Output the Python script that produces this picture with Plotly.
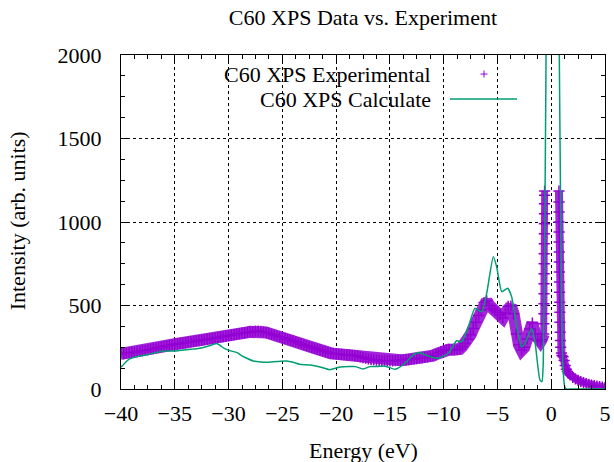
import numpy as np
import plotly.graph_objects as go

# ---- experimental XPS spectrum (C60) ----
# valence band region, sampled every 0.25 eV from -40 to -1.25 eV
exp_energy_vb = np.round(np.arange(-40.0, -1.0, 0.25), 2)
exp_intensity_vb = [
    210, 212, 214, 216,
    218, 220, 222, 225,
    228, 231, 234, 237,
    240, 244, 247, 251,
    254, 258, 261, 265,
    268, 270, 273, 275,
    278, 280, 283, 285,
    288, 290, 293, 295,
    298, 301, 303, 306,
    309, 312, 314, 317,
    320, 323, 326, 329,
    332, 334, 336, 339,
    342, 344, 346, 347,
    345, 342, 338, 333,
    327, 323, 318, 313,
    308, 303, 298, 293,
    288, 283, 276, 270,
    265, 259, 253, 248,
    244, 239, 234, 229,
    224, 219, 214, 212,
    210, 208, 207, 205,
    204, 204, 202, 199,
    197, 192, 188, 184,
    180, 177, 175, 173,
    171, 169, 168, 168,
    168, 169, 170, 171,
    172, 173, 174, 176,
    178, 180, 182, 184,
    186, 189, 192, 196,
    200, 207, 215, 224,
    232, 235, 236, 235,
    234, 235, 240, 255,
    273, 298, 325, 362,
    400, 440, 475, 518,
    528, 500, 482, 470,
    460, 445, 425, 455,
    495, 497, 450, 330,
    265, 233, 250, 300,
    360, 395, 330, 290,
]

# near the Fermi level the spectrum was recorded on a finer grid
exp_energy_homo = [
    -1.0, -0.9,
    -0.70, -0.69, -0.68, -0.675, -0.67, -0.665, -0.66, -0.655,
    -0.65, -0.645, -0.64, -0.635, -0.63, -0.625, -0.62, -0.61,
]
exp_intensity_homo = [
    285, 295,
    330, 390, 450, 510, 570, 630, 690, 750,
    810, 870, 930, 990, 1050, 1110, 1160, 1185,
]
exp_energy_lumo = [
    0.72, 0.725, 0.73, 0.735, 0.74, 0.745, 0.75, 0.755,
    0.76, 0.77, 0.78, 0.79, 0.80, 0.81, 0.83, 0.85, 0.88,
    0.95, 1.0, 1.1, 1.2, 1.3, 1.4, 1.5, 1.6, 1.75,
    2.0, 2.25, 2.5, 2.75, 3.0, 3.25, 3.5, 3.75,
    4.0, 4.25, 4.5, 4.75, 5.0,
]
exp_intensity_lumo = [
    1185, 1120, 1060, 1000, 940, 880, 820, 760,
    700, 640, 580, 520, 460, 400, 340, 290, 250,
    215, 200, 193, 170, 140, 118, 105, 95, 85,
    70, 60, 52, 45, 38, 33, 28, 24,
    20, 17, 14, 11, 8,
]

# ---- calculated spectrum ----
calc_energy = [
    -40, -39.5, -39.2, -38.5, -37.5, -36.5, -36, -35, -34.4, -33.5,
    -32.8, -32, -31.5, -31.1, -30.8, -30.4, -29.9, -29.2, -28.9, -28.5,
    -27.7, -27, -26.45, -25.5, -24.6, -24, -23.4, -22.4, -21.5, -20.6,
    -19.6, -18.7, -18.2, -17.5, -16.85, -16.4, -15.5, -14.5, -13.6, -12.9,
    -12.36, -11.7, -11.1, -10.5, -9.57, -8.8, -8.33, -7.7, -7.1, -6.47,
    -6.0, -5.39, -5.07, -4.6, -4.05, -3.68, -3.21, -2.75, -2.44, -1.82,
    -1.51, -1.05, -0.86, -0.74, -0.62, -0.5, -0.4, -0.2, 0.0, 0.3,
    0.6, 0.75, 0.9, 1.0, 1.1, 1.25, 1.4, 2.0, 3.0, 4.0, 5.0,
]
calc_intensity = [
    130, 165, 180, 195, 207, 222, 228, 227, 232, 238,
    243, 255, 265, 273, 262, 243, 230, 218, 205, 190,
    168, 162, 160, 165, 168, 160, 148, 144, 132, 116,
    132, 134, 134, 120, 134, 134, 138, 118, 154, 200,
    218, 204, 190, 184, 214, 289, 283, 373, 483, 463,
    573, 792, 732, 583, 603, 553, 373, 253, 273, 363,
    283, 54, 44, 156, 800, 1800, 3000, 5000, 6000, 5000,
    3000, 2000, 900, 350, 120, 15, 0, 0, 0, 0, 0,
]

x_ticks = [-40, -35, -30, -25, -20, -15, -10, -5, 0, 5]
y_ticks = [0, 500, 1000, 1500, 2000]

PURPLE = "#9400D3"
GREEN = "#009E73"
FONT = "Liberation Serif"
FS = 22

exp_x = list(exp_energy_vb) + exp_energy_homo + exp_energy_lumo
exp_y = exp_intensity_vb + exp_intensity_homo + exp_intensity_lumo

fig = go.Figure()
# the dense point cloud renders as a thick band; draw it under the '+' symbols
band_runs = [
    (list(exp_energy_vb) + exp_energy_homo[:3], exp_intensity_vb + exp_intensity_homo[:3], 12),
    (exp_energy_homo[2:], exp_intensity_homo[2:], 7),
    (exp_energy_lumo, exp_intensity_lumo, 8),
]
for bx, by, w in band_runs:
    fig.add_trace(go.Scatter(
        x=bx, y=by, mode="lines",
        line=dict(color=PURPLE, width=w), opacity=0.85,
        hoverinfo="skip", showlegend=False,
    ))
fig.add_trace(go.Scatter(
    x=exp_x, y=exp_y, mode="markers",
    name="C60 XPS Experimental",
    marker=dict(symbol="cross-thin", size=8,
                line=dict(width=1.5, color=PURPLE), color=PURPLE),
    showlegend=False,
))
fig.add_trace(go.Scatter(
    x=calc_energy, y=calc_intensity, mode="lines",
    name="C60 XPS Calculate",
    line=dict(color=GREEN, width=1.5, shape="spline", smoothing=0.5),
    showlegend=False,
))

axis_common = dict(
    showline=True, linecolor="black", linewidth=1, mirror="allticks",
    ticks="inside", ticklen=8, tickwidth=1, tickcolor="black",
    showgrid=True, gridcolor="black", griddash="dot", gridwidth=1,
    zeroline=False, automargin=False,
    tickfont=dict(family=FONT, size=FS, color="black"),
)

fig.update_xaxes(
    range=[-40, 5], tickvals=x_ticks,
    minor=dict(ticks="inside", ticklen=4, dtick=1.25, tick0=-40,
               tickcolor="black", showgrid=False),
    ticklabelstandoff=5,
    **axis_common,
)
fig.update_yaxes(
    range=[0, 2000], tickvals=y_ticks,
    minor=dict(ticks="inside", ticklen=4, dtick=125, tick0=0,
               tickcolor="black", showgrid=False),
    ticklabelstandoff=14,
    **axis_common,
)

txt_font = dict(family=FONT, size=FS, color="black")
key_text_x = 0.6446
row_y = [0.943, 0.868]
annotations = [
    # axis titles
    dict(text="Energy (eV)", x=0.5, y=-0.1856, xref="paper", yref="paper",
         xanchor="center", yanchor="middle", showarrow=False, font=txt_font),
    dict(text="Intensity (arb. units)", x=-0.2149, y=0.505, xref="paper", yref="paper",
         xanchor="center", yanchor="middle", textangle=-90, showarrow=False, font=txt_font),
    # key (text right-aligned, sample to the right)
    dict(text="C60 XPS Experimental", x=key_text_x, y=row_y[0], xref="paper", yref="paper",
         xanchor="right", yanchor="middle", showarrow=False, font=txt_font),
    dict(text="C60 XPS Calculate", x=key_text_x, y=row_y[1], xref="paper", yref="paper",
         xanchor="right", yanchor="middle", showarrow=False, font=txt_font),
]
px_w, px_h = 484.0, 334.0
cx, half = 0.75, 3.5
shapes = [
    dict(type="line", xref="paper", yref="paper",
         x0=cx - half / px_w, x1=cx + half / px_w, y0=row_y[0], y1=row_y[0],
         line=dict(color=PURPLE, width=1)),
    dict(type="line", xref="paper", yref="paper",
         x0=cx, x1=cx, y0=row_y[0] - half / px_h, y1=row_y[0] + half / px_h,
         line=dict(color=PURPLE, width=1)),
    dict(type="line", xref="paper", yref="paper",
         x0=0.6798, x1=0.8182, y0=row_y[1], y1=row_y[1],
         line=dict(color=GREEN, width=1.5)),
]

fig.update_layout(
    width=614, height=462,
    margin=dict(l=121, r=9, t=55, b=73),
    paper_bgcolor="white", plot_bgcolor="white",
    title=dict(text="C60 XPS Data vs. Experiment", x=0.5, xref="paper",
               y=1 - 17 / 462, yref="container", yanchor="middle",
               font=txt_font),
    annotations=annotations, shapes=shapes,
    font=txt_font,
)

fig.write_html("out.html")
